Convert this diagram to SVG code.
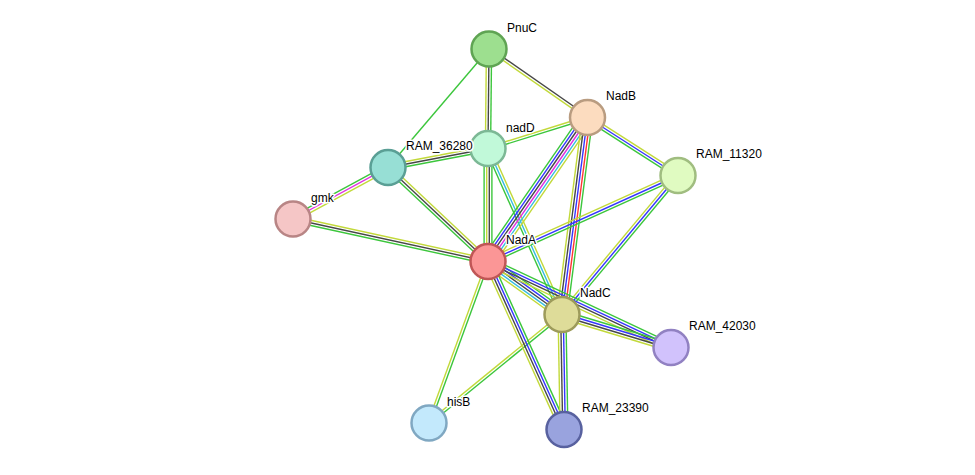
<svg xmlns="http://www.w3.org/2000/svg" width="975" height="475" viewBox="0 0 975 475">
<style>
line{stroke-width:1.4;fill:none}
.g{stroke:#3cc63c}.y{stroke:#c2d93a}.k{stroke:#474747}.b{stroke:#3535ff}.m{stroke:#e030e0}.c{stroke:#35bce0}.r{stroke:#ff3535}
circle{stroke-width:2.5}
text{font-family:"Liberation Sans",Arial,sans-serif;font-size:12px;fill:#000;stroke:#fff;stroke-width:3;stroke-linejoin:round;paint-order:stroke}
</style>
<rect width="975" height="475" fill="#fff"/>
<g id="edges">
<g transform="translate(489,49) rotate(130.44)"><line x2="155.7" class="g"/></g>
<g transform="translate(489,49) rotate(90.58)"><line y1="2.6" x2="99.5" y2="2.6" class="y"/><line x2="99.5" class="k"/><line y1="-2.6" x2="99.5" y2="-2.6" class="g"/></g>
<g transform="translate(489,49) rotate(34.82)"><line y1="1.3" x2="120" y2="1.3" class="y"/><line y1="-1.3" x2="120" y2="-1.3" class="k"/></g>
<g transform="translate(488,148.5) rotate(-17.3)"><line y1="-1.3" x2="104.2" y2="-1.3" class="y"/><line y1="1.3" x2="104.2" y2="1.3" class="g"/></g>
<g transform="translate(388,167.5) rotate(-10.76)"><line y1="-2.6" x2="101.8" y2="-2.6" class="y"/><line x2="101.8" class="k"/><line y1="2.6" x2="101.8" y2="2.6" class="g"/></g>
<g transform="translate(293,219) rotate(-28.46)"><line y1="-2.6" x2="108.1" y2="-2.6" class="g"/><line x2="108.1" class="m"/><line y1="2.6" x2="108.1" y2="2.6" class="y"/></g>
<g transform="translate(293,219) rotate(12.29)"><line y1="-2.6" x2="199.6" y2="-2.6" class="y"/><line x2="199.6" class="k"/><line y1="2.6" x2="199.6" y2="2.6" class="g"/></g>
<g transform="translate(388,167.5) rotate(43.23)"><line y1="-2.6" x2="137.2" y2="-2.6" class="y"/><line x2="137.2" class="k"/><line y1="2.6" x2="137.2" y2="2.6" class="g"/></g>
<g transform="translate(488,148.5) rotate(90)"><line y1="3.9" x2="113" y2="3.9" class="g"/><line y1="1.3" x2="113" y2="1.3" class="y"/><line y1="-1.3" x2="113" y2="-1.3" class="k"/><line y1="-3.9" x2="113" y2="-3.9" class="g"/></g>
<g transform="translate(488,148.5) rotate(65.97)"><line y1="2.6" x2="181.75" y2="2.6" class="g"/><line x2="181.75" class="c"/><line y1="-2.6" x2="181.75" y2="-2.6" class="y"/></g>
<g transform="translate(587.5,117.5) rotate(124.65)"><line y1="6.5" x2="175" y2="6.5" class="g"/><line y1="3.9" x2="175" y2="3.9" class="b"/><line y1="1.3" x2="175" y2="1.3" class="k"/><line y1="-1.3" x2="175" y2="-1.3" class="m"/><line y1="-3.9" x2="175" y2="-3.9" class="c"/><line y1="-6.5" x2="175" y2="-6.5" class="y"/></g>
<g transform="translate(587.5,117.5) rotate(97.38)"><line y1="5.2" x2="198.6" y2="5.2" class="y"/><line y1="2.6" x2="198.6" y2="2.6" class="k"/><line x2="198.6" class="b"/><line y1="-2.6" x2="198.6" y2="-2.6" class="r"/><line y1="-5.2" x2="198.6" y2="-5.2" class="g"/></g>
<g transform="translate(587.5,117.5) rotate(32.66)"><line y1="2.6" x2="107.5" y2="2.6" class="g"/><line x2="107.5" class="b"/><line y1="-2.6" x2="107.5" y2="-2.6" class="y"/></g>
<g transform="translate(488,261.5) rotate(-24.35)"><line y1="-2.6" x2="208.6" y2="-2.6" class="y"/><line x2="208.6" class="b"/><line y1="2.6" x2="208.6" y2="2.6" class="g"/></g>
<g transform="translate(562,314.5) rotate(-50.16)"><line y1="-2.6" x2="181" y2="-2.6" class="y"/><line x2="181" class="b"/><line y1="2.6" x2="181" y2="2.6" class="g"/></g>
<g transform="translate(488,261.5) rotate(35.61)"><line y1="-5.2" x2="91" y2="-5.2" class="g"/><line y1="-2.6" x2="91" y2="-2.6" class="b"/><line x2="91" class="k"/><line y1="2.6" x2="91" y2="2.6" class="c"/><line y1="5.2" x2="91" y2="5.2" class="y"/></g>
<g transform="translate(488,261.5) rotate(25.17)"><line y1="-3.9" x2="202.2" y2="-3.9" class="g"/><line y1="-1.3" x2="202.2" y2="-1.3" class="b"/><line y1="1.3" x2="202.2" y2="1.3" class="k"/><line y1="3.9" x2="202.2" y2="3.9" class="y"/></g>
<g transform="translate(562,314.5) rotate(16.84)"><line y1="-3.9" x2="113.9" y2="-3.9" class="g"/><line y1="-1.3" x2="113.9" y2="-1.3" class="b"/><line y1="1.3" x2="113.9" y2="1.3" class="k"/><line y1="3.9" x2="113.9" y2="3.9" class="y"/></g>
<g transform="translate(488,261.5) rotate(110.06)"><line y1="1.3" x2="171.9" y2="1.3" class="y"/><line y1="-1.3" x2="171.9" y2="-1.3" class="g"/></g>
<g transform="translate(562,314.5) rotate(140.79)"><line y1="1.3" x2="171.6" y2="1.3" class="y"/><line y1="-1.3" x2="171.6" y2="-1.3" class="g"/></g>
<g transform="translate(488,261.5) rotate(65.66)"><line y1="3.9" x2="184.4" y2="3.9" class="y"/><line y1="1.3" x2="184.4" y2="1.3" class="k"/><line y1="-1.3" x2="184.4" y2="-1.3" class="b"/><line y1="-3.9" x2="184.4" y2="-3.9" class="g"/></g>
<g transform="translate(562,314.5) rotate(89)"><line y1="3.9" x2="115" y2="3.9" class="y"/><line y1="1.3" x2="115" y2="1.3" class="k"/><line y1="-1.3" x2="115" y2="-1.3" class="b"/><line y1="-3.9" x2="115" y2="-3.9" class="g"/></g>
</g>
<g id="PnuC"><circle cx="489" cy="49" r="17.5" fill="#9ddf8f" stroke="#5fa453"/><text x="507" y="32">PnuC</text></g>
<g id="NadB"><circle cx="587.5" cy="117.5" r="17.5" fill="#fcdcbf" stroke="#b99c80"/><text x="606" y="100">NadB</text></g>
<g id="nadD"><circle cx="488" cy="148.5" r="17.5" fill="#c1f9d9" stroke="#7cb895"/><text x="506" y="131.5">nadD</text></g>
<g id="RAM_36280"><circle cx="388" cy="167.5" r="17.5" fill="#97dfd5" stroke="#5a9f95"/><text x="406" y="150">RAM_36280</text></g>
<g id="RAM_11320"><circle cx="678" cy="175.5" r="17.5" fill="#e0fbc1" stroke="#a0bd80"/><text x="696" y="158">RAM_11320</text></g>
<g id="gmk"><circle cx="293" cy="219" r="17.5" fill="#f5c6c6" stroke="#b88585"/><text x="311" y="202">gmk</text></g>
<g id="NadA"><circle cx="488" cy="261.5" r="17.5" fill="#fb9696" stroke="#c05656"/><text x="506" y="244">NadA</text></g>
<g id="NadC"><circle cx="562" cy="314.5" r="17.5" fill="#dedc99" stroke="#9d9b5b"/><text x="580" y="297">NadC</text></g>
<g id="RAM_42030"><circle cx="671" cy="347.5" r="17.5" fill="#d1c2fc" stroke="#9181c2"/><text x="689" y="330">RAM_42030</text></g>
<g id="hisB"><circle cx="429" cy="423" r="17.5" fill="#c3e9fc" stroke="#80a8c2"/><text x="447" y="406">hisB</text></g>
<g id="RAM_23390"><circle cx="564" cy="429.5" r="17.5" fill="#99a3de" stroke="#58619f"/><text x="582" y="412">RAM_23390</text></g>
</svg>
